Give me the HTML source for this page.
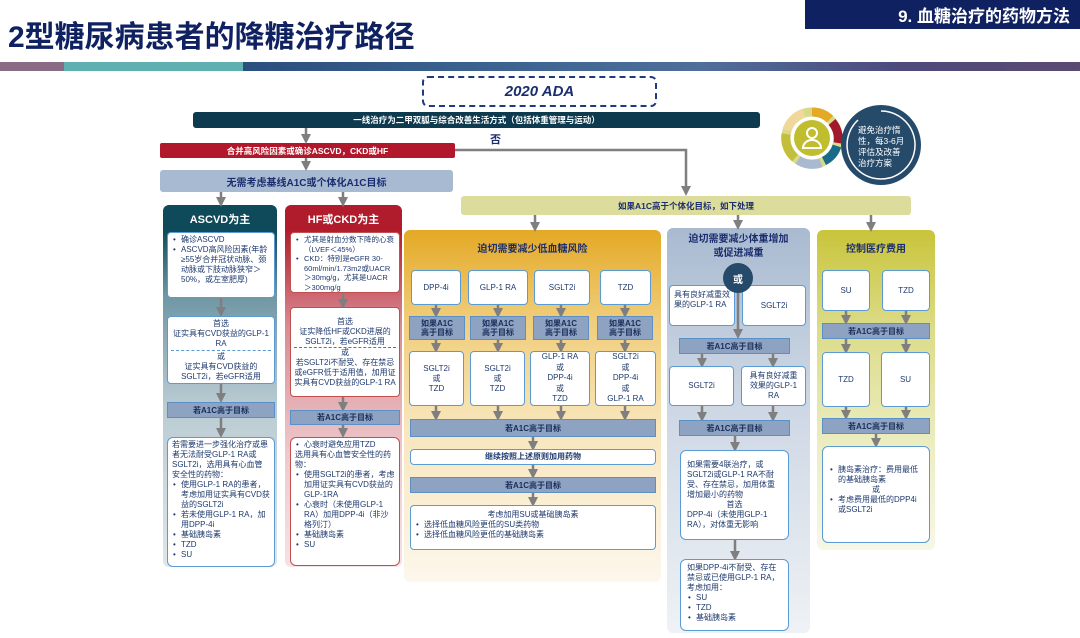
<!DOCTYPE html><html><head><meta charset="utf-8"><style>
*{margin:0;padding:0;box-sizing:border-box}
body{width:1080px;height:638px;background:#fff;position:relative;overflow:hidden;font-family:"Liberation Sans","Noto Sans CJK SC",sans-serif;color:#1f3a6e}
.a{position:absolute}
.bx{position:absolute;background:#fff;border:1.5px solid #5b9bd5;border-radius:4px;font-size:8px;line-height:10px;color:#1f3a6e;padding:2px 4px}
.c{display:flex;align-items:center;justify-content:center;text-align:center}
.bar{position:absolute;background:#8ea3c2;border:1.5px solid #5b8fc7;font-size:8px;font-weight:bold;color:#1a2d5a;display:flex;align-items:center;justify-content:center;text-align:center;line-height:9px}
ul{list-style:none}
li{padding-left:9px;position:relative}
li:before{content:"•";position:absolute;left:1px}
.rd{border-color:#c0504d}
</style></head><body>
<div class="a" style="left:8px;top:12px;font-size:30px;font-weight:bold;color:#0f2160;letter-spacing:0px">2型糖尿病患者的降糖治疗路径</div>
<div class="a c" style="left:805px;top:0;width:275px;height:29px;background:#0f2160;color:#fff;font-size:17px;font-weight:bold;justify-content:flex-end;padding-right:10px">9. 血糖治疗的药物方法</div>
<div class="a" style="left:0;top:62px;width:1080px;height:9px;background:linear-gradient(90deg,#8a6b86 0,#8a6b86 64px,#5fb0ae 64px,#5fb0ae 243px,#2b4f7e 243px,#3f6692 540px,#4f6e9a 700px,#4e4a7c 900px,#5b4a72 1080px)"></div>

<div class="a c" style="left:422px;top:76px;width:235px;height:31px;border:2.5px dashed #1f3a7e;border-radius:6px;font-size:15px;font-weight:bold;font-style:italic;color:#1a2d6e">2020 ADA</div>
<div class="a c" style="left:193px;top:112px;width:567px;height:16px;background:#0d3a4e;border-radius:3px;color:#fff;font-size:8.5px;font-weight:bold">一线治疗为二甲双胍与综合改善生活方式（包括体重管理与运动）</div>
<div class="a" style="left:490px;top:131px;font-size:11px;font-weight:bold;color:#1a2d6e">否</div>
<div class="a c" style="left:160px;top:143px;width:295px;height:15px;background:#b2182b;border-radius:2px;color:#fff;font-size:8.5px;font-weight:bold">合并高风险因素或确诊ASCVD，CKD或HF</div>
<div class="a c" style="left:160px;top:170px;width:293px;height:22px;background:#a8b9d2;border-radius:3px;color:#1a2d6e;font-size:10px;font-weight:bold">无需考虑基线A1C或个体化A1C目标</div>
<div class="a c" style="left:461px;top:196px;width:450px;height:19px;background:#dcdc9c;border-radius:3px;color:#1a2d6e;font-size:8.5px;font-weight:bold">如果A1C高于个体化目标，如下处理</div>

<!-- columns -->
<div class="a" style="left:163px;top:205px;width:114px;height:362px;border-radius:6px;background:linear-gradient(180deg,#0e4a5a 0,#0e4a5a 25px,#6f96a4 90px,#b9cbd2 200px,#dfe6e9 362px)"></div>
<div class="a c" style="left:163px;top:207px;width:114px;height:24px;color:#fff;font-size:11px;font-weight:bold">ASCVD为主</div>
<div class="a" style="left:285px;top:205px;width:117px;height:362px;border-radius:6px;background:linear-gradient(180deg,#b11c2c 0,#b11c2c 25px,#d88a92 120px,#eec9cc 250px,#f6e2e3 362px)"></div>
<div class="a c" style="left:285px;top:207px;width:117px;height:24px;color:#fff;font-size:11px;font-weight:bold">HF或CKD为主</div>
<div class="a" style="left:404px;top:230px;width:257px;height:352px;border-radius:6px;background:linear-gradient(180deg,#e4a925 0,#f0cd7a 90px,#f8e6bd 200px,#fdf7ec 352px)"></div>
<div class="a c" style="left:404px;top:238px;width:257px;height:18px;color:#1a2d6e;font-size:10px;font-weight:bold">迫切需要减少低血糖风险</div>
<div class="a" style="left:667px;top:228px;width:143px;height:405px;border-radius:6px;background:linear-gradient(180deg,#a9bad0 0,#c9d4e2 150px,#eef1f5 400px)"></div>
<div class="a c" style="left:667px;top:232px;width:143px;height:30px;color:#1a2d6e;font-size:10px;line-height:14px;font-weight:bold">迫切需要减少体重增加<br>或促进减重</div>
<div class="a" style="left:817px;top:230px;width:118px;height:320px;border-radius:6px;background:linear-gradient(180deg,#c9c43a 0,#dcdc8a 100px,#eeefc8 230px,#f7f7e6 320px)"></div>
<div class="a c" style="left:817px;top:238px;width:118px;height:18px;color:#1a2d6e;font-size:10px;font-weight:bold">控制医疗费用</div>

<svg class="a" style="left:0;top:0" width="1080" height="638">
<defs><marker id="m" markerWidth="4" markerHeight="4" refX="2" refY="2" orient="auto" markerUnits="strokeWidth"><path d="M0,0L4,2L0,4z" fill="#7f7f7f"/></marker></defs>
<g stroke="#7f7f7f" stroke-width="2.5" fill="none" marker-end="url(#m)">
<path d="M306 128V139"/><path d="M306 158V166"/><path d="M221 192V202"/><path d="M343 192V202"/>
<path d="M455 150H686V191"/>
<path d="M535 215V227"/><path d="M738 215V225"/><path d="M871 215V227"/>
<path d="M221 298V312"/><path d="M221 384V398"/><path d="M221 418V433"/>
<path d="M343 293V304"/><path d="M343 397V407"/><path d="M343 425V433"/>
<path d="M436 305V313"/><path d="M498 305V313"/><path d="M561 305V313"/><path d="M625 305V313"/>
<path d="M436 340V348"/><path d="M498 340V348"/><path d="M561 340V348"/><path d="M625 340V348"/>
<path d="M436 406V416"/><path d="M498 406V416"/><path d="M561 406V416"/><path d="M625 406V416"/>
<path d="M533 437V446"/><path d="M533 465V474"/><path d="M533 493V502"/>
<path d="M738 293V334"/><path d="M702 354V363"/><path d="M773 354V363"/><path d="M702 406V417"/><path d="M773 406V417"/>
<path d="M735 436V447"/><path d="M735 540V556"/>
<path d="M846 311V320"/><path d="M906 311V320"/><path d="M846 339V349"/><path d="M906 339V349"/><path d="M846 407V415"/><path d="M906 407V415"/><path d="M876 434V443"/>
</g>
<!-- icon -->
<g transform="translate(812,138)">
<circle r="26" fill="none" stroke="#d9d98a" stroke-width="9"/>
<path d="M0,-26A26,26 0 0 1 18,-19" stroke="#e4a925" stroke-width="9" fill="none"/>
<path d="M20,-16A26,26 0 0 1 26,5" stroke="#a3192b" stroke-width="9" fill="none"/>
<path d="M25,8A26,26 0 0 1 12,23" stroke="#1a6a8a" stroke-width="9" fill="none"/>
<path d="M9,25A26,26 0 0 1 -14,22" stroke="#a9bad0" stroke-width="9" fill="none"/>
<path d="M-17,20A26,26 0 0 1 -26,-4" stroke="#c4bf3a" stroke-width="9" fill="none"/>
<path d="M-25,-8A26,26 0 0 1 -8,-25" stroke="#f0d89a" stroke-width="9" fill="none"/>
<circle r="18" fill="#c0bd2e"/>
<circle cy="-5" r="5" fill="none" stroke="#fff" stroke-width="2"/>
<path d="M-9,10A9,8 0 0 1 9,10Z" fill="none" stroke="#fff" stroke-width="2"/>
</g>
<circle cx="881" cy="145" r="40" fill="#264a6a"/>
<path d="M858,120A34,34 0 1 0 881,111" stroke="#fff" stroke-width="1.5" fill="none"/>
</svg>
<div class="a" style="left:858px;top:125px;width:50px;font-size:8.5px;line-height:11px;color:#fff">避免治疗惰性，每3-6月评估及改善治疗方案</div>

<!-- ASCVD -->
<div class="bx" style="left:167px;top:232px;width:108px;height:66px"><ul><li>确诊ASCVD</li><li>ASCVD高风险因素(年龄≥55岁合并冠状动脉、颈动脉或下肢动脉狭窄＞50%，或左室肥厚)</li></ul></div>
<div class="bx c" style="left:167px;top:316px;width:108px;height:68px;flex-direction:column;padding:1px 3px">
<div>首选<br>证实具有CVD获益的GLP-1 RA</div><div style="width:100%;border-top:1px dashed #5b9bd5;margin:1px 0"></div><div>或<br>证实具有CVD获益的SGLT2i，若eGFR适用</div></div>
<div class="bar" style="left:167px;top:402px;width:108px;height:16px">若A1C高于目标</div>
<div class="bx" style="left:167px;top:437px;width:108px;height:130px;border-radius:6px">若需要进一步强化治疗或患者无法耐受GLP-1 RA或SGLT2i，选用具有心血管安全性的药物：<ul><li>使用GLP-1 RA的患者，考虑加用证实具有CVD获益的SGLT2i</li><li>若未使用GLP-1 RA，加用DPP-4i</li><li>基础胰岛素</li><li>TZD</li><li>SU</li></ul></div>

<!-- HF -->
<div class="bx rd" style="left:290px;top:232px;width:110px;height:61px;font-size:7.5px;line-height:9.5px"><ul><li>尤其是射血分数下降的心衰（LVEF＜45%）</li><li>CKD：特别是eGFR 30-60ml/min/1.73m2或UACR＞30mg/g，尤其是UACR＞300mg/g</li></ul></div>
<div class="bx rd c" style="left:290px;top:307px;width:110px;height:90px;flex-direction:column;padding:1px 3px">
<div>首选<br>证实降低HF或CKD进展的SGLT2i，若eGFR适用</div><div style="width:100%;border-top:1px dashed #c0504d;margin:0"></div><div>或<br>若SGLT2i不耐受、存在禁忌或eGFR低于适用值，加用证实具有CVD获益的GLP-1 RA</div></div>
<div class="bar" style="left:290px;top:410px;width:110px;height:15px">若A1C高于目标</div>
<div class="bx rd" style="left:290px;top:437px;width:110px;height:129px;border-radius:6px"><ul><li>心衰时避免应用TZD</li></ul>选用具有心血管安全性的药物：<ul><li>使用SGLT2i的患者，考虑加用证实具有CVD获益的GLP-1RA</li><li>心衰时（未使用GLP-1 RA）加用DPP-4i（非沙格列汀）</li><li>基础胰岛素</li><li>SU</li></ul></div>

<!-- orange -->
<div class="bx c" style="left:411px;top:270px;width:50px;height:35px">DPP-4i</div>
<div class="bx c" style="left:468px;top:270px;width:60px;height:35px">GLP-1 RA</div>
<div class="bx c" style="left:534px;top:270px;width:56px;height:35px">SGLT2i</div>
<div class="bx c" style="left:600px;top:270px;width:51px;height:35px">TZD</div>
<div class="bar" style="left:409px;top:316px;width:56px;height:24px">如果A1C<br>高于目标</div>
<div class="bar" style="left:470px;top:316px;width:56px;height:24px">如果A1C<br>高于目标</div>
<div class="bar" style="left:533px;top:316px;width:56px;height:24px">如果A1C<br>高于目标</div>
<div class="bar" style="left:597px;top:316px;width:56px;height:24px">如果A1C<br>高于目标</div>
<div class="bx c" style="left:409px;top:351px;width:55px;height:55px">SGLT2i<br>或<br>TZD</div>
<div class="bx c" style="left:470px;top:351px;width:55px;height:55px">SGLT2i<br>或<br>TZD</div>
<div class="bx c" style="left:530px;top:351px;width:60px;height:55px;line-height:10.5px">GLP-1 RA<br>或<br>DPP-4i<br>或<br>TZD</div>
<div class="bx c" style="left:595px;top:351px;width:61px;height:55px;line-height:10.5px">SGLT2i<br>或<br>DPP-4i<br>或<br>GLP-1 RA</div>
<div class="bar" style="left:410px;top:419px;width:246px;height:18px">若A1C高于目标</div>
<div class="bx c" style="left:410px;top:449px;width:246px;height:16px;font-weight:bold">继续按照上述原则加用药物</div>
<div class="bar" style="left:410px;top:477px;width:246px;height:16px">若A1C高于目标</div>
<div class="bx" style="left:410px;top:505px;width:246px;height:45px;padding-top:4px"><div style="text-align:center">考虑加用SU或基础胰岛素</div><ul><li>选择低血糖风险更低的SU类药物</li><li>选择低血糖风险更低的基础胰岛素</li></ul></div>

<!-- blue -->
<div class="bx" style="left:669px;top:285px;width:66px;height:41px;padding-top:4px">具有良好减重效果的GLP-1 RA</div>
<div class="bx c" style="left:742px;top:285px;width:64px;height:41px">SGLT2i</div>
<div class="a c" style="left:723px;top:263px;width:30px;height:30px;border-radius:50%;background:#264a6a;color:#fff;font-size:10px;font-weight:bold">或</div>
<div class="bar" style="left:679px;top:338px;width:111px;height:16px">若A1C高于目标</div>
<div class="bx c" style="left:669px;top:366px;width:65px;height:40px">SGLT2i</div>
<div class="bx c" style="left:741px;top:366px;width:65px;height:40px">具有良好减重效果的GLP-1 RA</div>
<div class="bar" style="left:679px;top:420px;width:111px;height:16px">若A1C高于目标</div>
<div class="bx" style="left:680px;top:450px;width:109px;height:90px;border-radius:6px;padding:9px 6px">如果需要4联治疗，或SGLT2i或GLP-1 RA不耐受、存在禁忌，加用体重增加最小的药物<div style="text-align:center">首选</div>DPP-4i（未使用GLP-1 RA），对体重无影响</div>
<div class="bx" style="left:680px;top:559px;width:109px;height:72px;border-radius:6px;padding:3px 6px">如果DPP-4i不耐受、存在禁忌或已使用GLP-1 RA，考虑加用：<ul><li>SU</li><li>TZD</li><li>基础胰岛素</li></ul></div>

<!-- olive -->
<div class="bx c" style="left:822px;top:270px;width:48px;height:41px">SU</div>
<div class="bx c" style="left:882px;top:270px;width:48px;height:41px">TZD</div>
<div class="bar" style="left:822px;top:323px;width:108px;height:16px">若A1C高于目标</div>
<div class="bx c" style="left:822px;top:352px;width:48px;height:55px">TZD</div>
<div class="bx c" style="left:881px;top:352px;width:49px;height:55px">SU</div>
<div class="bar" style="left:822px;top:418px;width:108px;height:16px">若A1C高于目标</div>
<div class="bx" style="left:822px;top:446px;width:108px;height:97px;border-radius:6px;padding:18px 6px"><ul><li>胰岛素治疗：费用最低的基础胰岛素</li></ul><div style="text-align:center">或</div><ul><li>考虑费用最低的DPP4i或SGLT2i</li></ul></div>
</body></html>
